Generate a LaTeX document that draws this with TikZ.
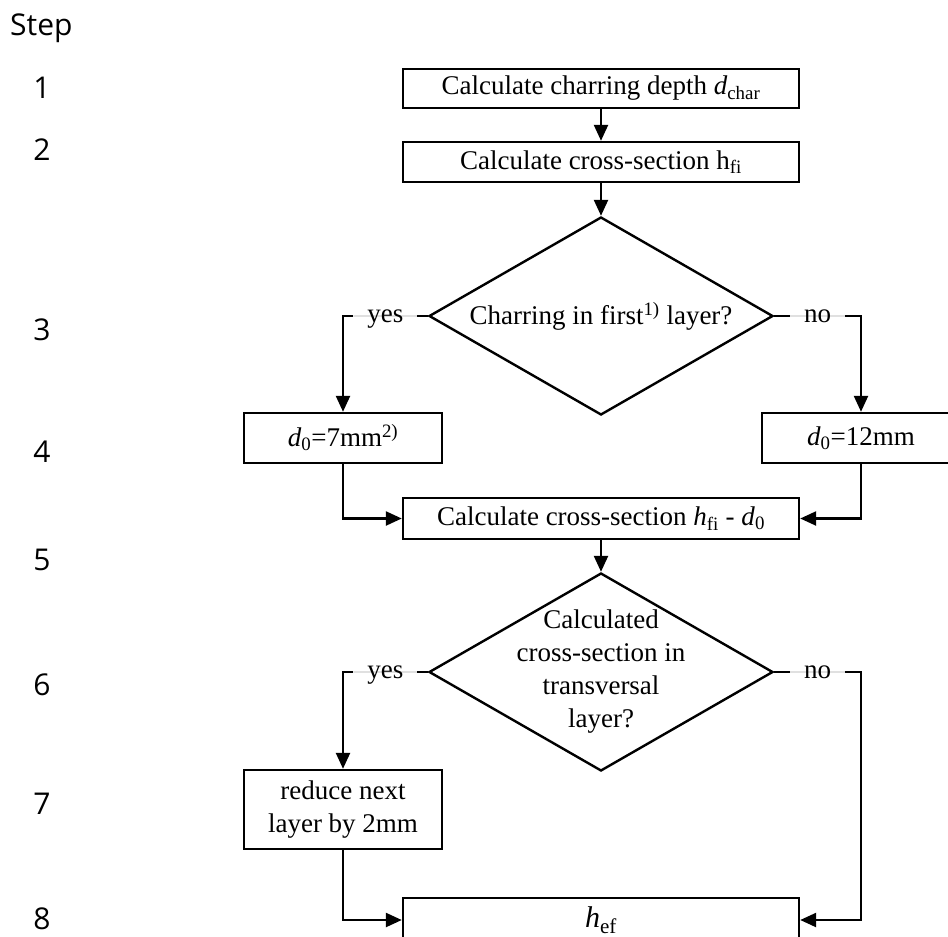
\documentclass[tikz,border=0pt]{standalone}
\usepackage{fontspec}
\setmainfont{Liberation Serif}
\newfontfamily\stepfont{Open Sans}
\usetikzlibrary{shapes.geometric,arrows.meta}

\begin{document}
\begin{tikzpicture}[
        x=1pt, y=-1pt,
        every node/.style={font=\fontsize{27}{33}\selectfont},
        box/.style={
            rectangle, draw, line width=2.4pt, minimum width=396pt, inner sep=0pt, align=center
        },
        smallbox/.style={box, minimum width=198pt},
        decision/.style={
            diamond, draw, line width=2.4pt, minimum width=344pt, minimum height=198pt,
            aspect=1.74, inner sep=-20pt, align=center
        },
        yesno/.style={
            fill=white, inner xsep=14pt, inner ysep=2pt, text height=18pt, text depth=6pt,
            path picture={\draw[-, black!12, line width=2.4pt] (path picture bounding box.west) -- (path picture bounding box.east);}
        },
        stepnum/.style={font=\stepfont\fontsize{30}{36}\selectfont, inner sep=0pt},
        arr/.style={line width=2.4pt, -{Triangle[length=16pt,width=14pt]}}
    ]
    \useasboundingbox (0,0) rectangle (948,937);
    \clip (0,0) rectangle (948,937);

    % step column
    \node[stepnum, anchor=west] (steptitle) at (10,28) {Step};
    \foreach \n/\y in {1/88,2/150,3/330,4/452,5/560,6/685,7/804,8/919}
        \node[stepnum] (step\n) at (42,\y) {\n};

    \node[box, minimum height=39pt] (charring) at (601,88.5) {Calculate charring depth \textit{d}\textsubscript{char}};
    \node[box, minimum height=40pt] (section) at (601,162) {Calculate cross-section h\textsubscript{fi}};
    \node[decision] (firstq) at (601,316) {Charring in first\textsuperscript{1)} layer?};
    \node[smallbox, minimum height=50pt] (dseven) at (343,438) {\textit{d}\textsubscript{0}=7mm\textsuperscript{2)}};
    \node[smallbox, minimum height=50pt] (dtwelve) at (861,438) {\textit{d}\textsubscript{0}=12mm};
    \node[box, minimum height=41pt] (reduced) at (601,518.5) {Calculate cross-section \textit{h}\textsubscript{fi} - \textit{d}\textsubscript{0}};
    \node[decision] (transq) at (601,672) {Calculated\\cross-section in\\transversal\\layer?};
    \node[smallbox, minimum height=79pt] (nextlayer) at (343,809.5) {reduce next\\layer by 2mm};
    \node[box, minimum height=44pt, font=\fontsize{30}{34}\selectfont] (hef) at (601,920) {\textit{h}\textsubscript{ef}};

    \draw[arr] (charring) -- (section);
    \draw[arr] (section) -- (firstq);
    \draw[arr] (firstq.west) -| node[yesno, pos=0.25] {yes} (dseven);
    \draw[arr] (firstq.east) -| node[yesno, pos=0.25] {no} (dtwelve);
    \draw[arr] (dseven) |- (reduced);
    \draw[arr] (dtwelve) |- (reduced);
    \draw[arr] (reduced) -- (transq);
    \draw[arr] (transq.west) -| node[yesno, pos=0.25] {yes} (nextlayer);
    \draw[arr] (transq.east) -- node[yesno] {no} (transq.east -| dtwelve) |- (hef);
    \draw[arr] (nextlayer) |- (hef);
\end{tikzpicture}
\end{document}
